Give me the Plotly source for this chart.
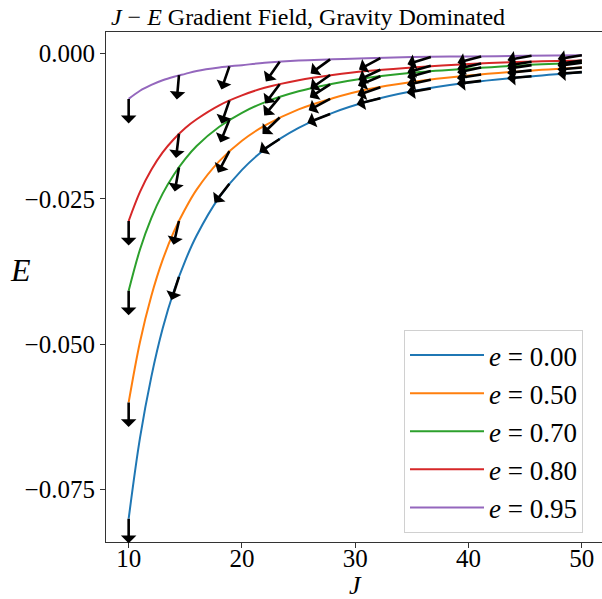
import math
import plotly.graph_objects as go

# Curve sample points (J) and energies
J_curve = [10, 11, 12, 13, 14, 15, 16, 18, 20, 22, 25, 28, 31, 35, 40, 45, 50]
E_e000 = [-0.0800, -0.0661, -0.0556, -0.0473, -0.0408, -0.0356, -0.0313, -0.0247, -0.0200, -0.0165, -0.0128, -0.0102, -0.0083, -0.0065, -0.0050, -0.0040, -0.0032]
E_e050 = [-0.0600, -0.0496, -0.0417, -0.0355, -0.0306, -0.0267, -0.0234, -0.0185, -0.0150, -0.0124, -0.0096, -0.0077, -0.0062, -0.0049, -0.0038, -0.0030, -0.0024]
E_e070 = [-0.0408, -0.0337, -0.0283, -0.0241, -0.0208, -0.0181, -0.0159, -0.0126, -0.0102, -0.0084, -0.0065, -0.0052, -0.0042, -0.0033, -0.0026, -0.0020, -0.0016]
E_e080 = [-0.0288, -0.0238, -0.0200, -0.0170, -0.0147, -0.0128, -0.0113, -0.0089, -0.0072, -0.0059, -0.0046, -0.0037, -0.0030, -0.0024, -0.0018, -0.0014, -0.0012]
E_e095 = [-0.0078, -0.0064, -0.0054, -0.0046, -0.0040, -0.0035, -0.0030, -0.0024, -0.0020, -0.0016, -0.0012, -0.0010, -0.0008, -0.0006, -0.0005, -0.0004, -0.0003]

# Arrow (gradient) sample points
J_arrow = [10.00, 14.44, 18.89, 23.33, 27.78, 32.22, 36.67, 41.11, 45.56, 50.00]
Ea_e000 = [-0.0800, -0.0384, -0.0224, -0.0147, -0.0104, -0.0077, -0.0060, -0.0047, -0.0039, -0.0032]
Ea_e050 = [-0.0600, -0.0288, -0.0168, -0.0110, -0.0078, -0.0058, -0.0045, -0.0036, -0.0029, -0.0024]
Ea_e070 = [-0.0408, -0.0196, -0.0114, -0.0075, -0.0053, -0.0039, -0.0030, -0.0024, -0.0020, -0.0016]
Ea_e080 = [-0.0288, -0.0138, -0.0081, -0.0053, -0.0037, -0.0028, -0.0021, -0.0017, -0.0014, -0.0012]
Ea_e095 = [-0.0078, -0.0037, -0.0022, -0.0014, -0.0010, -0.0008, -0.0006, -0.0005, -0.0004, -0.0003]

# Arrow directions (degrees from straight down, toward -J)
ang_e000 = [0, 18, 38, 57, 69, 76, 80, 83, 85, 86]
ang_e050 = [0, 13, 28, 46, 62, 71, 78, 81, 84, 85]
ang_e070 = [0, 10, 22, 40, 57, 67, 75, 78, 82, 83]
ang_e080 = [0, 7, 19, 37, 55, 65, 74, 77, 81, 82]
ang_e095 = [0, 5, 19, 35, 54, 62, 73, 75, 80, 81]

labels = ["0.00", "0.50", "0.70", "0.80", "0.95"]
colors = ["#1f77b4", "#ff7f0e", "#2ca02c", "#d62728", "#9467bd"]
curves = [E_e000, E_e050, E_e070, E_e080, E_e095]
arrow_E = [Ea_e000, Ea_e050, Ea_e070, Ea_e080, Ea_e095]
arrow_ang = [ang_e000, ang_e050, ang_e070, ang_e080, ang_e095]

FONT = "Liberation Serif"
ARROW_LEN = 26
W, H = 602, 599
L, T = 106, 32
B = H - 542
PW, PH = W - L, H - B - T


def px(xs):  # screen x (reference) -> paper x
    return (xs - L) / PW


def py(ys):  # screen y (reference) -> paper y
    return (H - B - ys) / PH


fig = go.Figure()
for i, (lab, col, E) in enumerate(zip(labels, colors, curves)):
    fig.add_trace(go.Scatter(
        x=J_curve, y=E, mode="lines", name=f"<i>e</i> = {lab}",
        line=dict(color=col, width=2, shape="spline", smoothing=1.0),
        legendgroup=f"g{i}",
    ))

annotations = []
for Ea, angs in zip(arrow_E, arrow_ang):
    for j, e, a in zip(J_arrow, Ea, angs):
        th = math.radians(a)
        annotations.append(dict(
            x=j, y=e, xref="x", yref="y", text="", showarrow=True,
            ax=-ARROW_LEN * math.sin(th), ay=ARROW_LEN * math.cos(th),
            axref="pixel", ayref="pixel", arrowside="start",
            arrowhead=2, arrowsize=1.25, arrowwidth=2.6, arrowcolor="black",
        ))

annotations.append(dict(text="<i>J</i>", x=px(355), y=py(585), xref="paper", yref="paper",
                        showarrow=False, font=dict(family=FONT, size=26, color="black"),
                        xanchor="center", yanchor="middle"))
annotations.append(dict(text="<i>E</i>", x=px(20), y=py(270), xref="paper", yref="paper",
                        showarrow=False, font=dict(family=FONT, size=32, color="black"),
                        xanchor="center", yanchor="middle"))

fig.update_layout(
    width=W, height=H,
    margin=dict(l=L, r=0, t=T, b=B, autoexpand=False),
    paper_bgcolor="white", plot_bgcolor="white",
    title=dict(text="<i>J</i> − <i>E</i> Gradient Field, Gravity Dominated",
               x=308 / W, xref="container", xanchor="center",
               y=1 - 17 / H, yref="container", yanchor="middle",
               font=dict(family=FONT, size=24, color="black"), automargin=False),
    font=dict(family=FONT, size=25, color="black"),
    xaxis=dict(range=[8, 8 + PW / 11.33], tickvals=[10, 20, 30, 40, 50], showgrid=False, zeroline=False,
               showline=True, linecolor="#333", linewidth=1.2, mirror=True,
               ticks="outside", ticklen=5, tickcolor="#333", automargin=False,
               ticklabelstandoff=-11,
               tickfont=dict(family=FONT, size=25)),
    yaxis=dict(range=[-0.0840, 0.0037], tickvals=[-0.075, -0.05, -0.025, 0.0], tickformat=".3f",
               showgrid=False, zeroline=False, showline=True, linecolor="#333", linewidth=1.2,
               mirror=False, ticks="outside", ticklen=5, tickcolor="#333", automargin=False,
               tickfont=dict(family=FONT, size=25)),
    legend=dict(x=px(404), y=py(330), xanchor="left", yanchor="top",
                bgcolor="rgba(255,255,255,0.8)", bordercolor="#d0d0d0", borderwidth=1,
                font=dict(family=FONT, size=27), traceorder="grouped", tracegroupgap=0,
                itemwidth=74),
    annotations=annotations,
    showlegend=True,
)

fig.write_html("out.html", config={"displayModeBar": False},
               post_script="document.body.style.margin='0px';document.body.style.overflow='hidden';")
